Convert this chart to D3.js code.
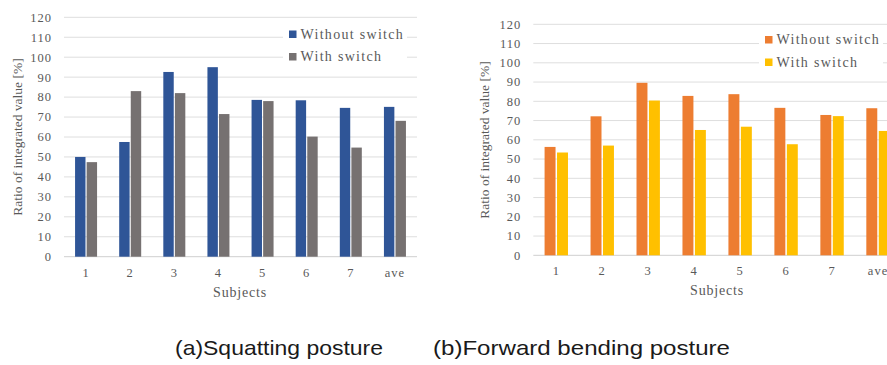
<!DOCTYPE html>
<html>
<head>
<meta charset="utf-8">
<script src="https://cdn.jsdelivr.net/npm/d3@7"></script>
<style>
  body { margin: 0; background: #fff; }
  svg { display: block; }
  .tick-label, .axis-title, .legend-text { font-family: "Liberation Serif", "DejaVu Serif", serif; fill: #595959; }
  .caption { font-family: "Liberation Sans", Arial, sans-serif; fill: #1a1a1a; font-size: 21px; }
</style>
</head>
<body>
<div id="chart"></div>
<script>
// data
var subjects = ["1", "2", "3", "4", "5", "6", "7", "ave"];
var seriesNames = ["Without switch", "With switch"];
var yTicks = [0, 10, 20, 30, 40, 50, 60, 70, 80, 90, 100, 110, 120];

var squatWithout = [50, 57.5, 92.6, 95, 78.6, 78.4, 74.6, 75.1];
var squatWith = [47.4, 83, 82, 71.5, 78, 60.2, 54.7, 68.1];

var bendWithout = [56.3, 72.2, 89.6, 82.8, 83.7, 76.6, 72.9, 76.4];
var bendWith = [53.4, 57, 80.4, 65.1, 66.8, 57.7, 72.3, 64.6];

var captions = ["(a)Squatting posture", "(b)Forward bending posture"];

// svg area
var svgWidth = 887;
var svgHeight = 365;

var svg = d3.select("#chart")
  .append("svg")
  .attr("width", svgWidth)
  .attr("height", svgHeight);

// draw one grouped bar chart
function drawChart(opt) {
  var g = svg.append("g");

  var y = d3.scaleLinear().domain([0, 120]).range([opt.bottom, opt.top]);
  var x0 = d3.scaleBand().domain(subjects).range([opt.left, opt.right]);
  var half = opt.groupWidth / 2;

  // gridlines
  g.selectAll(".grid")
    .data(yTicks)
    .enter()
    .append("line")
    .attr("x1", opt.left)
    .attr("x2", opt.right)
    .attr("y1", d => y(d))
    .attr("y2", d => y(d))
    .attr("stroke", d => d === 0 ? "#cfcfcf" : "#dedede")
    .attr("stroke-width", 1);

  // y tick labels
  g.selectAll(".ytl")
    .data(yTicks)
    .enter()
    .append("text")
    .attr("class", "tick-label")
    .attr("x", opt.left - 12)
    .attr("y", d => y(d))
    .attr("dy", "0.35em")
    .attr("text-anchor", "end")
    .attr("font-size", "12.5px")
    .attr("letter-spacing", "1px")
    .text(d => d);

  // bars
  var rows = subjects.map((s, i) => ({ subject: s, values: [opt.a[i], opt.b[i]] }));
  var groups = g.selectAll(".grp")
    .data(rows)
    .enter()
    .append("g")
    .attr("transform", d => `translate(${x0(d.subject) + x0.bandwidth() / 2 - half}, 0)`);

  var x1 = d3.scaleBand().domain([0, 1]).range([0, opt.groupWidth]).paddingInner(opt.innerPad);

  groups.selectAll("rect")
    .data(d => d.values)
    .enter()
    .append("rect")
    .attr("x", (d, i) => x1(i))
    .attr("width", x1.bandwidth())
    .attr("y", d => y(d))
    .attr("height", d => y(0) - y(d))
    .attr("fill", (d, i) => opt.colors[i]);

  // x tick labels
  g.selectAll(".xtl")
    .data(subjects)
    .enter()
    .append("text")
    .attr("class", "tick-label")
    .attr("x", d => x0(d) + x0.bandwidth() / 2)
    .attr("y", opt.bottom + 20)
    .attr("text-anchor", "middle")
    .attr("font-size", "12.5px")
    .attr("letter-spacing", "1px")
    .text(d => d);

  // axis titles
  g.append("text")
    .attr("class", "axis-title")
    .attr("x", opt.xTitleX)
    .attr("y", opt.bottom + 40)
    .attr("text-anchor", "middle")
    .attr("font-size", "14px")
    .attr("letter-spacing", "0.8px")
    .text("Subjects");

  g.append("text")
    .attr("class", "axis-title")
    .attr("transform", `translate(${opt.yTitleX}, ${opt.yTitleY}) rotate(-90)`)
    .attr("text-anchor", "middle")
    .attr("font-size", "13.5px")
    .text("Ratio of integrated value [%]");

  // legend
  var lg = g.append("g").attr("transform", `translate(${opt.legendX}, ${opt.legendY})`);
  lg.append("rect")
    .attr("x", -6)
    .attr("y", -10)
    .attr("width", opt.legendW)
    .attr("height", 44)
    .attr("fill", "#fff");
  seriesNames.forEach(function(name, i) {
    lg.append("rect")
      .attr("x", 0)
      .attr("y", i * 22.5 - 3.5)
      .attr("width", 7.5)
      .attr("height", 7.5)
      .attr("fill", opt.colors[i]);
    lg.append("text")
      .attr("class", "legend-text")
      .attr("x", 11.5)
      .attr("y", i * 22.5)
      .attr("dy", "0.35em")
      .attr("font-size", "14px")
      .attr("letter-spacing", "1.3px")
      .text(name);
  });
}

drawChart({
  a: squatWithout, b: squatWith,
  colors: ["#2F5597", "#767171"],
  left: 64, right: 417, top: 17.3, bottom: 256.7,
  groupWidth: 22, innerPad: 0.1,
  xTitleX: 240, yTitleX: 22, yTitleY: 137,
  legendX: 289, legendY: 34, legendW: 124
});

drawChart({
  a: bendWithout, b: bendWith,
  colors: ["#ED7D31", "#FFC000"],
  left: 533.3, right: 901, top: 24.3, bottom: 255.3,
  groupWidth: 23.4, innerPad: 0.12,
  xTitleX: 717, yTitleX: 489, yTitleY: 140,
  legendX: 765, legendY: 39.5, legendW: 124
});

// captions
svg.append("text").attr("class", "caption").attr("x", 175).attr("y", 355)
  .attr("textLength", 208).attr("lengthAdjust", "spacingAndGlyphs").text(captions[0]);
svg.append("text").attr("class", "caption").attr("x", 433).attr("y", 355)
  .attr("textLength", 297).attr("lengthAdjust", "spacingAndGlyphs").text(captions[1]);
</script>
</body>
</html>
